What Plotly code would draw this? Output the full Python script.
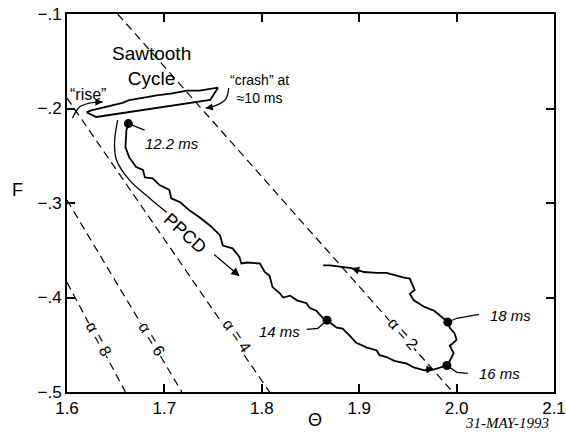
import plotly.graph_objects as go

# ---- data ----
traj_theta = [1.663, 1.661, 1.660, 1.664, 1.671, 1.678, 1.680, 1.688, 1.695, 1.705,
              1.707, 1.716, 1.726, 1.736, 1.747, 1.757, 1.760, 1.770, 1.777, 1.779,
              1.785, 1.798, 1.803, 1.808, 1.811, 1.818, 1.822, 1.829, 1.836, 1.846,
              1.849, 1.856, 1.863, 1.867, 1.877, 1.883, 1.890, 1.897, 1.908, 1.918,
              1.921, 1.928, 1.936, 1.949, 1.956, 1.967, 1.977, 1.983, 1.990, 1.993,
              1.997, 1.993, 2.000, 1.998, 1.993, 1.991, 1.983, 1.977, 1.967, 1.956,
              1.952, 1.957, 1.954, 1.952, 1.946, 1.928, 1.918, 1.905, 1.892, 1.870,
              1.863]
traj_f = [-0.216, -0.223, -0.241, -0.252, -0.262, -0.265, -0.273, -0.274, -0.281, -0.286,
          -0.295, -0.299, -0.308, -0.315, -0.324, -0.334, -0.345, -0.348, -0.357, -0.364,
          -0.363, -0.364, -0.373, -0.377, -0.389, -0.395, -0.400, -0.398, -0.403, -0.406,
          -0.411, -0.414, -0.422, -0.424, -0.432, -0.433, -0.440, -0.448, -0.453, -0.456,
          -0.461, -0.463, -0.467, -0.470, -0.474, -0.477, -0.476, -0.474, -0.472, -0.467,
          -0.459, -0.451, -0.445, -0.438, -0.432, -0.426, -0.419, -0.414, -0.410, -0.403,
          -0.396, -0.392, -0.385, -0.380, -0.379, -0.374, -0.374, -0.373, -0.369, -0.366,
          -0.366]

saw_theta = [1.620, 1.625, 1.657, 1.664, 1.682, 1.692, 1.708, 1.723, 1.736, 1.755,
             1.747, 1.630, 1.620]
saw_f = [-0.204, -0.202, -0.194, -0.191, -0.188, -0.186, -0.184, -0.181, -0.181, -0.178,
         -0.191, -0.209, -0.204]

time_labels = ["12.2 ms", "14 ms", "16 ms", "18 ms"]
time_theta = [1.663, 1.867, 1.990, 1.991]
time_f = [-0.216, -0.424, -0.472, -0.426]
label_theta = [1.7075, 1.8184, 2.0445, 2.0558]
label_f = [-0.2367, -0.4358, -0.4803, -0.4189]
# leader-line bend and end points (from dot to label)
leader_mid_theta = [1.6797, 1.8575, 2.0003, 2.0003]
leader_mid_f = [-0.2229, -0.4326, -0.4792, -0.4220]
leader_end_theta = [1.6797, 1.8461, 2.0116, 2.0229]
leader_end_f = [-0.2229, -0.4337, -0.4803, -0.4178]

# direction arrowheads along the trajectory (head point, pixel offset of tail)
dir_theta = [1.892, 1.977]
dir_f = [-0.369, -0.476]
dir_ax = [10, -10]
dir_ay = [3, 0]

alpha_names = ["α = 2", "α = 4", "α = 6", "α = 8"]
alpha_theta0 = [1.652, 1.600, 1.600, 1.600]
alpha_f0 = [-0.100, -0.189, -0.297, -0.384]
alpha_theta1 = [1.996, 1.808, 1.718, 1.660]
alpha_f1 = [-0.500, -0.500, -0.500, -0.500]
alpha_lab_theta = [1.9448, 1.7742, 1.6868, 1.6324]
alpha_lab_f = [-0.4379, -0.4400, -0.4432, -0.4432]
alpha_lab_angle = [48, 55, 59, 62]

x_ticks = [1.6, 1.7, 1.8, 1.9, 2.0, 2.1]
x_ticktext = ["1.6", "1.7", "1.8", "1.9", "2.0", "2.1"]
y_ticks = [-0.1, -0.2, -0.3, -0.4, -0.5]
y_ticktext = ["\u2212.1", "\u2212.2", "\u2212.3", "\u2212.4", "\u2212.5"]

# guide curves for annotations
ppcd_theta = [1.652, 1.6488, 1.6509, 1.6642, 1.6848, 1.7023]
ppcd_f = [-0.2123, -0.2367, -0.2547, -0.2758, -0.2949, -0.3097]
rise_theta = [1.6057, 1.6128, 1.6231, 1.6365]
rise_f = [-0.2102, -0.1985, -0.1943, -0.1932]
crash_theta = [1.766, 1.763, 1.7537, 1.7423]
crash_f = [-0.1784, -0.190, -0.1964, -0.1996]

FONT = "Liberation Sans, Arial, sans-serif"

fig = go.Figure()

# alpha dashed lines
for i in range(len(alpha_names)):
    fig.add_trace(go.Scatter(x=[alpha_theta0[i], alpha_theta1[i]], y=[alpha_f0[i], alpha_f1[i]],
                             mode="lines", line=dict(color="black", width=1.2, dash="8px,5px"),
                             showlegend=False, hoverinfo="skip"))

# sawtooth loop
fig.add_trace(go.Scatter(x=saw_theta, y=saw_f, mode="lines",
                         line=dict(color="black", width=1.8), showlegend=False))
# trajectory
fig.add_trace(go.Scatter(x=traj_theta, y=traj_f, mode="lines",
                         line=dict(color="black", width=1.8), showlegend=False))

# leader lines
for i in range(len(time_labels)):
    fig.add_trace(go.Scatter(x=[time_theta[i], leader_mid_theta[i], leader_end_theta[i]],
                             y=[time_f[i], leader_mid_f[i], leader_end_f[i]],
                             mode="lines", line=dict(color="black", width=1.2),
                             showlegend=False, hoverinfo="skip"))

# dots
fig.add_trace(go.Scatter(x=time_theta, y=time_f, mode="markers",
                         marker=dict(color="black", size=9), showlegend=False))

# guide curves
for gx, gy in [(ppcd_theta, ppcd_f), (rise_theta, rise_f), (crash_theta, crash_f)]:
    fig.add_trace(go.Scatter(x=gx, y=gy, mode="lines", line=dict(color="black", width=1.3, shape="spline"),
                             showlegend=False, hoverinfo="skip"))

ann = []
for i in range(len(time_labels)):
    ann.append(dict(x=label_theta[i], y=label_f[i], text="<i>" + time_labels[i] + "</i>", showarrow=False,
                    font=dict(family=FONT, size=15, color="black"), xref="x", yref="y"))

for i in range(len(alpha_names)):
    ann.append(dict(x=alpha_lab_theta[i], y=alpha_lab_f[i], text=alpha_names[i], showarrow=False,
                    textangle=alpha_lab_angle[i], bgcolor="white", borderpad=0,
                    font=dict(family=FONT, size=16, color="black")))

for i in range(len(dir_theta)):
    ann.append(dict(x=dir_theta[i], y=dir_f[i], ax=dir_ax[i], ay=dir_ay[i], text="", showarrow=True,
                    arrowhead=2, arrowsize=1.2, arrowwidth=1.3, arrowcolor="black"))

ann += [
    dict(x=1.6868, y=-0.1545, text="Sawtooth<br>Cycle", showarrow=False,
         font=dict(family=FONT, size=19, color="black")),
    dict(x=1.6211, y=-0.1847, text="\u201crise\u201d", showarrow=False, font=dict(family=FONT, size=16, color="black")),
    dict(x=1.798, y=-0.179, text="\u201ccrash\u201d at<br>\u224810 ms", showarrow=False, align="center",
         font=dict(family=FONT, size=14, color="black")),
    dict(x=1.7208, y=-0.332, text="PPCD", showarrow=False, textangle=42, font=dict(family=FONT, size=18, color="black")),
    # arrowheads
    dict(x=1.7773, y=-0.3775, ax=1.7495, ay=-0.3532, axref="x", ayref="y", text="", showarrow=True,
         arrowhead=2, arrowsize=1.3, arrowwidth=1.3, arrowcolor="black"),
    dict(x=rise_theta[-1], y=rise_f[-1], ax=-6, ay=0, text="", showarrow=True,
         arrowhead=2, arrowsize=1.1, arrowwidth=1.3, arrowcolor="black"),
    dict(x=crash_theta[-1], y=crash_f[-1], ax=6, ay=-1, text="", showarrow=True,
         arrowhead=2, arrowsize=1.1, arrowwidth=1.3, arrowcolor="black"),
    # axis titles & date
    dict(x=-0.101, xref="paper", y=-0.2864, yref="y", text="F", showarrow=False,
         xanchor="center", yanchor="middle",
         font=dict(family=FONT, size=18, color="black")),
    dict(x=1.8544, xref="x", y=-0.0741, yref="paper", text="\u0398", showarrow=False,
         xanchor="center", yanchor="middle",
         font=dict(family=FONT, size=18, color="black")),
    dict(x=2.0518, xref="x", y=-0.0820, yref="paper", text="<i>31-MAY-1993</i>", showarrow=False,
         xanchor="center", yanchor="middle",
         font=dict(family="Liberation Serif, Times New Roman, serif", size=15, color="black")),
]

axis_common = dict(showgrid=False, zeroline=False, showline=True, linecolor="black", linewidth=2,
                   mirror="ticks", ticks="inside", ticklen=8, tickwidth=1.5, tickcolor="black",
                   automargin=False,
                   tickfont=dict(family=FONT, size=17, color="black"))

fig.update_layout(
    width=566, height=440,
    margin=dict(l=67, r=12, t=14, b=48),
    paper_bgcolor="white", plot_bgcolor="white",
    xaxis=dict(range=[1.6, 2.1], tickvals=x_ticks, ticktext=x_ticktext, **axis_common),
    yaxis=dict(range=[-0.5, -0.1], tickvals=y_ticks, ticktext=y_ticktext, **axis_common),
    annotations=ann,
    showlegend=False,
)

fig.write_html("out.html", config={"displayModeBar": False},
               post_script="document.body.style.margin='0px';")
